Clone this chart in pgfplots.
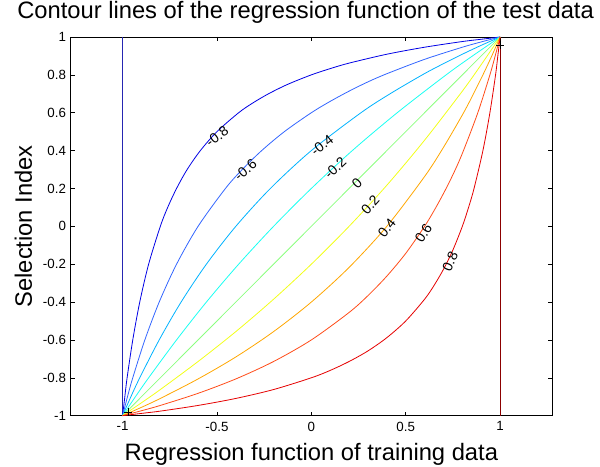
\documentclass[border=0pt]{standalone}
\usepackage{fontspec}
\setmainfont{Liberation Sans}
\usepackage{pgfplots}
\pgfplotsset{compat=1.18}

% jet-like colours for the contour levels -1 ... 1
\definecolor{lvA}{rgb}{0.15,0.15,0.70}  % -1
\definecolor{lvB}{rgb}{0.00,0.00,0.90}  % -0.8
\definecolor{lvC}{rgb}{0.20,0.40,1.00}  % -0.6
\definecolor{lvD}{rgb}{0.00,0.70,1.00}  % -0.4
\definecolor{lvE}{rgb}{0.10,1.00,0.95}  % -0.2
\definecolor{lvF}{rgb}{0.55,1.00,0.50}  % 0
\definecolor{lvG}{rgb}{0.95,1.00,0.10}  % 0.2
\definecolor{lvH}{rgb}{1.00,0.65,0.00}  % 0.4
\definecolor{lvI}{rgb}{1.00,0.30,0.10}  % 0.6
\definecolor{lvJ}{rgb}{0.90,0.00,0.00}  % 0.8
\definecolor{lvK}{rgb}{0.55,0.00,0.00}  % 1

\begin{document}
\begin{tikzpicture}
\begin{axis}[
  scale only axis,
  width=361pt, height=284pt,
  xmin=-1.275, xmax=1.275, ymin=-1, ymax=1,
  xtick={-1,-0.5,0,0.5,1},
  ytick={-1,-0.8,-0.6,-0.4,-0.2,0,0.2,0.4,0.6,0.8,1},
  tick align=inside,
  xtick pos=both, ytick pos=both,
  xticklabel pos=lower, yticklabel pos=left,
  major tick length=3pt,
  tick style={black, line width=0.4pt},
  axis line style={black, line width=0.5pt},
  tick label style={font=\fontsize{10}{12}\selectfont},
  /pgf/number format/assume math mode=true,
  xticklabel style={yshift=-1pt},
  clip=false,
  title={Contour lines of the regression function of the test data},
  title style={at={(axis description cs:0.488,1)}, anchor=base, yshift=7.75pt,
    font=\fontsize{17.8}{20}\selectfont},
  xlabel={Regression function of training data},
  every axis x label/.style={at={(axis description cs:0.5,0)}, anchor=base,
    yshift=-33.75pt, font=\fontsize{17.8}{20}\selectfont},
  ylabel={Selection Index},
  every axis y label/.style={at={(axis description cs:0,0.5)}, xshift=-29pt,
    rotate=90, anchor=base, font=\fontsize{17.8}{20}\selectfont},
]
% level -1 and level 1 (vertical lines)
\addplot[lvA, mark=none, line width=0.6pt] coordinates {(-1,-1) (-1,1)};
\addplot[lvK, mark=none, line width=0.6pt] coordinates {(1,-1) (1,0.958)};

% level -0.8
\addplot[lvB, mark=none, line width=0.6pt, smooth] coordinates {
  (-1,-1) (-0.994,-0.95) (-0.988,-0.9) (-0.976,-0.8) (-0.946,-0.6) (-0.909,-0.4)
  (-0.862,-0.2) (-0.8,0) (-0.761,0.1) (-0.714,0.2) (-0.658,0.3) (-0.588,0.4)
  (-0.5,0.5) (-0.385,0.6) (-0.3125,0.65) (-0.227,0.7) (-0.125,0.75) (0,0.8)
  (0.1,0.833) (0.2,0.862) (0.4,0.909) (0.6,0.946) (0.8,0.976) (0.9,0.988) (1,1)};
% level -0.6
\addplot[lvC, mark=none, line width=0.6pt, smooth] coordinates {
  (-1,-1) (-0.974,-0.9) (-0.946,-0.8) (-0.882,-0.6) (-0.806,-0.4) (-0.714,-0.2)
  (-0.6,0) (-0.455,0.2) (-0.366,0.3) (-0.263,0.4) (-0.143,0.5) (0,0.6)
  (0.1,0.66) (0.2,0.714) (0.3,0.763) (0.4,0.806) (0.6,0.882) (0.8,0.946)
  (0.9,0.974) (1,1)};
% level -0.4
\addplot[lvD, mark=none, line width=0.6pt, smooth] coordinates {
  (-1,-1) (-0.956,-0.9) (-0.909,-0.8) (-0.806,-0.6) (-0.69,-0.4) (-0.556,-0.2)
  (-0.4,0) (-0.217,0.2) (0,0.4) (0.263,0.6) (0.417,0.7) (0.588,0.8)
  (0.682,0.85) (0.8,0.909) (0.9,0.956) (1,1)};
% level -0.2
\addplot[lvE, mark=none, line width=0.6pt, smooth] coordinates {
  (-1,-1) (-0.932,-0.9) (-0.862,-0.8) (-0.714,-0.6) (-0.556,-0.4) (-0.385,-0.2)
  (-0.2,0) (0,0.2) (0.217,0.4) (0.455,0.6) (0.714,0.8) (0.854,0.9) (1,1)};
% level 0
\addplot[lvF, mark=none, line width=0.6pt] coordinates {(-1,-1) (1,1)};
% level 0.2
\addplot[lvG, mark=none, line width=0.6pt, smooth] coordinates {
  (-1,-1) (-0.9,-0.932) (-0.8,-0.862) (-0.6,-0.714) (-0.4,-0.556) (-0.2,-0.385)
  (0,-0.2) (0.2,0) (0.4,0.217) (0.6,0.455) (0.8,0.714) (0.9,0.854) (1,1)};
% level 0.4
\addplot[lvH, mark=none, line width=0.6pt, smooth] coordinates {
  (-1,-1) (-0.9,-0.956) (-0.8,-0.909) (-0.6,-0.806) (-0.4,-0.69) (-0.2,-0.556)
  (0,-0.4) (0.2,-0.217) (0.4,0) (0.6,0.263) (0.7,0.417) (0.8,0.588)
  (0.85,0.682) (0.909,0.8) (0.956,0.9) (1,1)};
% level 0.6
\addplot[lvI, mark=none, line width=0.6pt, smooth] coordinates {
  (-1,-1) (-0.9,-0.974) (-0.8,-0.946) (-0.6,-0.882) (-0.4,-0.806) (-0.2,-0.714)
  (0,-0.6) (0.2,-0.455) (0.3,-0.366) (0.4,-0.263) (0.5,-0.143) (0.6,0)
  (0.66,0.1) (0.714,0.2) (0.763,0.3) (0.806,0.4) (0.882,0.6) (0.946,0.8)
  (0.974,0.9) (1,1)};
% level 0.8
\addplot[lvJ, mark=none, line width=0.6pt, smooth] coordinates {
  (-1,-1) (-0.95,-0.994) (-0.9,-0.988) (-0.8,-0.976) (-0.6,-0.946) (-0.4,-0.909)
  (-0.2,-0.862) (0,-0.8) (0.1,-0.761) (0.2,-0.714) (0.3,-0.658) (0.4,-0.588)
  (0.5,-0.5) (0.6,-0.385) (0.65,-0.3125) (0.7,-0.227) (0.75,-0.125) (0.8,0)
  (0.833,0.1) (0.862,0.2) (0.909,0.4) (0.946,0.6) (0.976,0.8) (0.988,0.9) (1,1)};

% clabel markers
\addplot[only marks, mark=+, mark size=3pt, black, line width=0.5pt]
  coordinates {(1,0.958) (-0.97,-0.98)};

% contour labels
\begin{scope}[every node/.style={font=\fontsize{10.5}{12}\selectfont, inner sep=0pt}]
\node[rotate=37] at (axis cs:-0.499,0.474) {-0.8};
\node[rotate=40] at (axis cs:-0.349,0.298) {-0.6};
\node[rotate=38] at (axis cs:0.057,0.43) {-0.4};
\node[rotate=43] at (axis cs:0.127,0.307) {-0.2};
\node[rotate=45] at (axis cs:0.242,0.228) {0};
\node[rotate=48] at (axis cs:0.312,0.113) {0.2};
\node[rotate=52] at (axis cs:0.40,-0.01) {0.4};
\node[rotate=58] at (axis cs:0.594,-0.036) {0.6};
\node[rotate=66] at (axis cs:0.735,-0.186) {0.8};
\end{scope}
\end{axis}
\pgfresetboundingbox
\path[use as bounding box]
  ([xshift=-53pt,yshift=-38.25pt]current axis.south west)
  rectangle ([xshift=36pt,yshift=27.75pt]current axis.north east);
\end{tikzpicture}
\end{document}
